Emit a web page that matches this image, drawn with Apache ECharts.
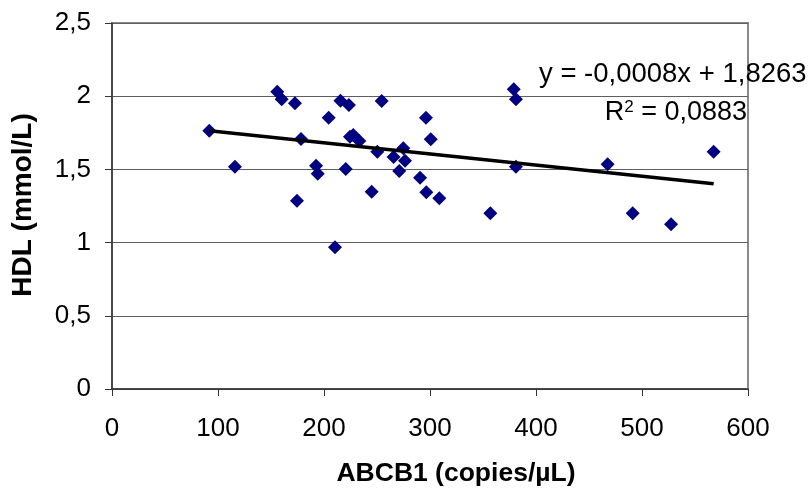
<!DOCTYPE html>
<html>
<head>
<meta charset="utf-8">
<script src="https://cdn.jsdelivr.net/npm/echarts@6/dist/echarts.min.js"></script>
<style>
html,body{margin:0;padding:0;background:#fff;}
#chart{width:812px;height:493px;}
</style>
</head>
<body>
<div id="chart"></div>
<script>
// ABCB1 (copies/µL)
var abcb1 = [91.8, 116.0, 155.9, 160.1, 172.6, 204.4, 178.3, 192.5, 194.1, 174.5,
             215.5, 223.5, 254.4, 227.6, 224.5, 233.3, 220.5, 250.3, 245.0, 274.8,
             265.6, 276.4, 271.0, 210.4, 290.6, 296.2, 300.7, 296.5, 308.8, 356.9,
             379.0, 381.1, 381.1, 467.6, 491.2, 527.4, 567.6];
// HDL (mmol/L)
var hdl = [1.764, 1.518, 2.031, 1.979, 1.951, 1.853, 1.708, 1.525, 1.471, 1.286,
           1.969, 1.940, 1.967, 1.735, 1.723, 1.694, 1.503, 1.621, 1.348, 1.644,
           1.585, 1.559, 1.489, 0.968, 1.443, 1.853, 1.706, 1.344, 1.303, 1.200,
           2.047, 1.979, 1.518, 1.535, 1.200, 1.125, 1.621];
// trend line as drawn
var trendSlope = -0.00076;
var trendIntercept = 1.834;
var equationText = 'y = -0,0008x + 1,8263';
var r2Text = 'R{s|2} = 0,0883';
var xTitle = 'ABCB1 (copies/\u00B5L)';
var yTitle = 'HDL (mmol/L)';

var FONT = "'Liberation Sans', Arial, sans-serif";
var points = abcb1.map(function (x, i) { return [x, hdl[i]]; });
var xMin = Math.min.apply(null, abcb1), xMax = Math.max.apply(null, abcb1);
var trend = [[xMin, trendIntercept + trendSlope * xMin], [xMax, trendIntercept + trendSlope * xMax]];

var chart = echarts.init(document.getElementById('chart'), null, {renderer: 'canvas'});
chart.setOption({
  animation: false,
  backgroundColor: '#fff',
  grid: {left: 112, right: 64, top: 23, bottom: 104, show: true, borderColor: '#8a8a8a', borderWidth: 2},
  xAxis: {
    type: 'value', min: 0, max: 600, interval: 100,
    axisLine: {lineStyle: {color: '#333', width: 1.5}},
    axisTick: {show: true, length: 7, lineStyle: {color: '#333', width: 1}},
    axisLabel: {fontFamily: FONT, fontSize: 26, color: '#000', margin: 27},
    splitLine: {show: false}
  },
  yAxis: {
    type: 'value', min: 0, max: 2.5, interval: 0.5,
    axisLine: {show: true, lineStyle: {color: '#333', width: 1.5}},
    axisTick: {show: true, length: 7, lineStyle: {color: '#333', width: 1}},
    axisLabel: {fontFamily: FONT, fontSize: 26, color: '#000', margin: 21,
      formatter: function (v) { return String(v).replace('.', ','); }},
    splitLine: {show: true, lineStyle: {color: '#5e5e5e', width: 1.2}}
  },
  series: [
    {
      type: 'scatter', data: points, symbol: 'diamond', symbolSize: 14,
      itemStyle: {color: '#000080', opacity: 1}, z: 3
    },
    {
      type: 'line', data: trend, symbol: 'none', lineStyle: {color: '#000', width: 3.5}, z: 4
    }
  ],
  graphic: [
    {type: 'text', left: 539, top: 60, style: {text: equationText, font: '27.5px ' + FONT, fill: '#000'}},
    {type: 'text', right: 65, top: 99, style: {text: r2Text, font: '27px ' + FONT, fill: '#000',
      rich: {s: {fontSize: 17, fontFamily: FONT, verticalAlign: 'top', padding: [0, 0, 10, 0]}}}},
    {type: 'text', x: 456, y: 474, style: {text: xTitle, font: 'bold 26.5px ' + FONT, fill: '#000', align: 'center', verticalAlign: 'middle'}},
    {type: 'text', x: 23, y: 205, rotation: Math.PI / 2, style: {text: yTitle, font: 'bold 28px ' + FONT, fill: '#000', align: 'center', verticalAlign: 'middle'}}
  ]
});
</script>
</body>
</html>
